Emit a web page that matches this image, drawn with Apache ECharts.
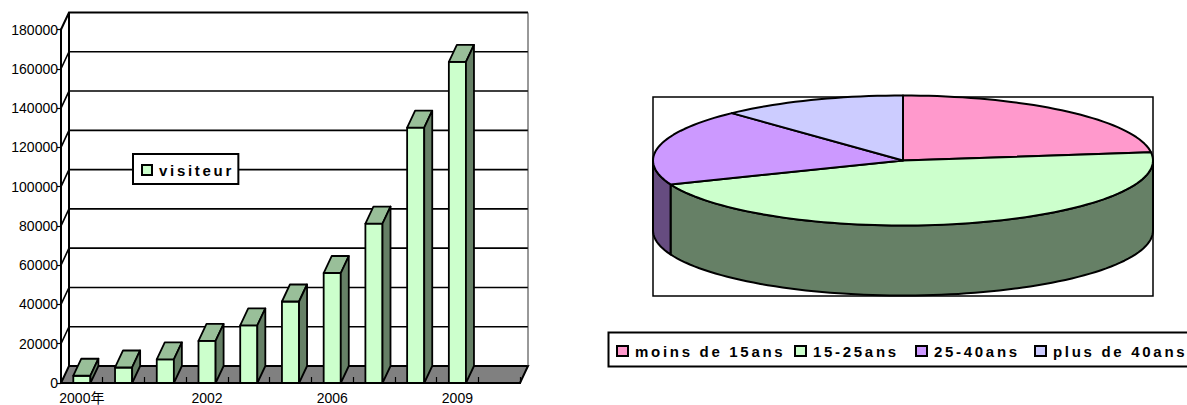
<!DOCTYPE html>
<html>
<head>
<meta charset="utf-8">
<title>visiteur</title>
<style>
html, body { margin: 0; padding: 0; background: #fff; overflow: hidden; }
#main { width: 1187px; height: 405px; }
/* les legendes du tableur ont des lettres tres espacees */
#main text[style*="bold"] { letter-spacing: 2.7px; }
</style>
<script src="https://cdn.jsdelivr.net/npm/echarts@6/dist/echarts.min.js"></script>
</head>
<body>
<div id="main"></div>
<script>
// histogramme : une colonne par categorie, la derniere categorie reste vide
var barCategories = ['2000年', '', '', '2002', '', '', '2006', '', '', '2009', ''];
var barValues = [3700, 7900, 12000, 21400, 29300, 41500, 56000, 81200, 130000, 163500];
var yTicks = [0, 20000, 40000, 60000, 80000, 100000, 120000, 140000, 160000, 180000];
var barSeriesName = 'visiteur';

// camembert
var sliceNames = ['moins de 15ans', '15-25ans', '25-40ans', 'plus de 40ans'];
var sliceValues = [23, 46, 19, 12];

var sliceColors = ['#FF99CC', '#CCFFCC', '#CC99FF', '#CCCCFF'];
var sliceSideColors = ['#804C66', '#668066', '#664C80', '#666680'];
var sliceLegendLeft = [616, 794, 915, 1034];

// decalage de la profondeur 3D de l'histogramme
var depthX = 8;
var depthY = 17;

// ellipse du camembert
var pie = { cx: 903, cy: 160.5, rx: 250, ry: 65, depth: 70 };

var chart = echarts.init(document.getElementById('main'), null, { renderer: 'svg' });

function renderWall(params, api) {
    var sys = params.coordSys;
    var v = api.value(1);
    var y = api.coord([0, v])[1];
    var left = sys.x;
    var right = sys.x + sys.width;
    var last = v === yTicks[yTicks.length - 1];
    var children = [];
    if (v === 0) {
        children.push({
            type: 'polygon',
            shape: { points: [[left, y], [right, y], [right + depthX, y - depthY], [left + depthX, y - depthY]] },
            style: { fill: '#808080', stroke: '#000', lineWidth: 2 }
        });
    } else {
        children.push({
            type: 'polyline',
            shape: { points: [[left, y], [left + depthX, y - depthY], [right + depthX, y - depthY]] },
            style: { fill: 'none', stroke: '#000', lineWidth: last ? 2 : 1.6 }
        });
    }
    if (last) {
        var y0 = api.coord([0, 0])[1];
        children.push({
            type: 'line',
            shape: { x1: left + depthX, y1: y - depthY, x2: left + depthX, y2: y0 - depthY },
            style: { stroke: '#000', lineWidth: 2 }
        });
        children.push({
            type: 'line',
            shape: { x1: right + depthX, y1: y - depthY, x2: right + depthX, y2: y0 - depthY },
            style: { stroke: '#333', lineWidth: 1 }
        });
    }
    return { type: 'group', children: children };
}

function renderBar(params, api) {
    var i = api.value(0);
    var base = api.coord([i, 0]);
    var top = api.coord([i, api.value(1)]);
    var half = api.size([1, 0])[0] * 0.205;
    var l = base[0] - half;
    var r = base[0] + half;
    var stroke = { stroke: '#000', lineWidth: 1.8, lineJoin: 'round' };
    function face(points, fill) {
        return { type: 'polygon', shape: { points: points }, style: Object.assign({ fill: fill }, stroke) };
    }
    return {
        type: 'group',
        children: [
            face([[l, top[1]], [r, top[1]], [r, base[1]], [l, base[1]]], '#CCFFCC'),
            face([[l, top[1]], [l + depthX, top[1] - depthY], [r + depthX, top[1] - depthY], [r, top[1]]], '#99BF99'),
            face([[r, top[1]], [r + depthX, top[1] - depthY], [r + depthX, base[1] - depthY], [r, base[1]]], '#668066')
        ]
    };
}

function rimPoint(deg, dy) {
    var a = deg * Math.PI / 180;
    return [pie.cx + pie.rx * Math.sin(a), pie.cy - pie.ry * Math.cos(a) + dy];
}

function arcPoints(from, to, dy) {
    var pts = [];
    var steps = Math.max(1, Math.ceil((to - from) / 2));
    for (var i = 0; i <= steps; i++) {
        pts.push(rimPoint(from + (to - from) * i / steps, dy));
    }
    return pts;
}

function makeSliceRenderer(index) {
    return function (params, api) {
        var total = 0, before = 0;
        for (var i = 0; i < sliceValues.length; i++) {
            total += sliceValues[i];
            if (i < index) before += sliceValues[i];
        }
        var start = before / total * 360;
        var end = start + api.value(0) / total * 360;
        var children = [];
        var sideFrom = Math.max(start, 90);
        var sideTo = Math.min(end, 270);
        if (sideTo > sideFrom) {
            var sidePts = arcPoints(sideFrom, sideTo, 0).concat(arcPoints(sideFrom, sideTo, pie.depth).reverse());
            children.push({
                type: 'polygon',
                shape: { points: sidePts },
                style: { fill: sliceSideColors[index], stroke: '#000', lineWidth: 2, lineJoin: 'round' }
            });
        }
        children.push({
            type: 'polygon',
            shape: { points: [[pie.cx, pie.cy]].concat(arcPoints(start, end, 0)) },
            style: { fill: sliceColors[index], stroke: '#000', lineWidth: 2, lineJoin: 'round' }
        });
        return { type: 'group', children: children };
    };
}

var series = [
    {
        name: 'wall',
        type: 'custom',
        silent: true,
        z: 1,
        renderItem: renderWall,
        encode: { x: 0, y: 1 },
        data: yTicks.map(function (v) { return [0, v]; })
    },
    {
        name: barSeriesName,
        type: 'custom',
        z: 3,
        renderItem: renderBar,
        itemStyle: { color: '#CCFFCC' },
        encode: { x: 0, y: 1 },
        data: barValues.map(function (v, i) { return [i, v]; })
    }
];

sliceNames.forEach(function (name, i) {
    series.push({
        name: name,
        type: 'custom',
        coordinateSystem: 'none',
        z: 3,
        renderItem: makeSliceRenderer(i),
        itemStyle: { color: sliceColors[i] },
        data: [[sliceValues[i]]]
    });
});

var legendText = { fontFamily: 'Liberation Sans', fontSize: 15, fontWeight: 'bold', color: '#000', padding: [0, 0, 0, 2] };
var legendSwatch = { borderColor: '#000', borderWidth: 2 };

var legends = [
    {
        data: [barSeriesName],
        left: 133,
        top: 154,
        padding: [8.5, 26, 6.5, 8],
        icon: 'rect',
        itemWidth: 10,
        itemHeight: 10,
        selectedMode: false,
        backgroundColor: '#fff',
        borderColor: '#000',
        borderWidth: 2,
        itemStyle: legendSwatch,
        textStyle: legendText,
        z: 6
    }
];
sliceNames.forEach(function (name, i) {
    legends.push({
        data: [name],
        left: sliceLegendLeft[i],
        top: 343.5,
        padding: 0,
        icon: 'rect',
        itemWidth: 11,
        itemHeight: 10,
        selectedMode: false,
        itemStyle: legendSwatch,
        textStyle: legendText,
        z: 6
    });
});

chart.setOption({
    animation: false,
    backgroundColor: '#fff',
    grid: { left: 61, top: 29.5, width: 459, height: 353.8, containLabel: false },
    xAxis: {
        type: 'category',
        data: barCategories,
        z: 4,
        axisLine: { lineStyle: { color: '#000', width: 2 } },
        axisTick: { show: true, inside: true, length: 6, interval: 0, lineStyle: { color: '#000', width: 1.2 } },
        axisLabel: { interval: 0, margin: 8, fontFamily: 'Liberation Sans, Noto Sans CJK SC', fontSize: 14, color: '#000' },
        splitLine: { show: false }
    },
    yAxis: {
        type: 'value',
        min: 0,
        max: 180000,
        interval: 20000,
        z: 4,
        axisLine: { show: true, lineStyle: { color: '#000', width: 2 } },
        axisTick: { show: true, length: 4, lineStyle: { color: '#000', width: 1.2 } },
        axisLabel: { margin: 3, fontFamily: 'Liberation Sans', fontSize: 14, color: '#000', formatter: function (v) { return String(v); } },
        splitLine: { show: false }
    },
    legend: legends,
    graphic: [
        {
            type: 'rect',
            z: 0,
            silent: true,
            shape: { x: 653, y: 97, width: 500, height: 199 },
            style: { fill: '#fff', stroke: '#000', lineWidth: 1.5 }
        },
        {
            type: 'rect',
            z: 0,
            silent: true,
            shape: { x: 608.5, y: 332.5, width: 600, height: 34 },
            style: { fill: '#fff', stroke: '#000', lineWidth: 2 }
        }
    ],
    series: series
});
</script>
</body>
</html>
